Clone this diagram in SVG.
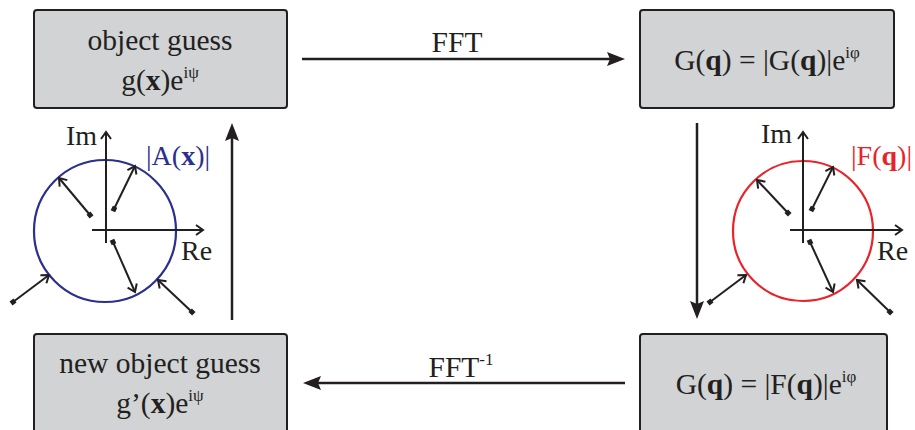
<svg xmlns="http://www.w3.org/2000/svg" width="915" height="430" viewBox="0 0 915 430">
  <style>
    text { font-family: "Liberation Serif", "Times New Roman", serif; fill: #231f20; }
    .box { fill: #d1d3d4; stroke: #231f20; stroke-width: 2; }
    .lbl { font-size: 29.5px; text-anchor: middle; }
    .ax { font-size: 28px; }
    .sup { font-size: 17px; }
    .main { stroke: #231f20; stroke-width: 2.5; fill: none; marker-end: url(#tri); }
    .axis { stroke: #231f20; stroke-width: 2; fill: none; marker-end: url(#vee); }
    .vec { stroke: #231f20; stroke-width: 2; fill: none; marker-start: url(#dot); marker-end: url(#vee); }
  </style>
  <defs>
    <marker id="tri" markerUnits="userSpaceOnUse" markerWidth="20" markerHeight="16" refX="3" refY="7" orient="auto" viewBox="0 0 20 14">
      <path d="M0,0 L18,7 L0,14 L3,7 z" fill="#231f20"/>
    </marker>
    <marker id="vee" markerUnits="userSpaceOnUse" markerWidth="12" markerHeight="12" refX="9" refY="6" orient="auto" viewBox="0 0 12 12">
      <path d="M2,1 L9,6 L2,11" fill="none" stroke="#231f20" stroke-width="2"/>
    </marker>
    <marker id="dot" markerUnits="userSpaceOnUse" markerWidth="6" markerHeight="6" refX="3" refY="3" orient="auto" viewBox="0 0 6 6">
      <rect x="0.5" y="0.5" width="5" height="5" fill="#231f20"/>
    </marker>
  </defs>

  <g id="object-guess">
    <rect class="box" x="34" y="10" width="253" height="98" rx="3"/>
    <text class="lbl" x="160" y="50">object guess</text>
    <text class="lbl" x="160" y="90">g(<tspan font-weight="bold">x</tspan>)e<tspan class="sup" dy="-12">iψ</tspan></text>
  </g>

  <g id="fourier-guess">
    <rect class="box" x="640" y="10" width="254" height="98" rx="3"/>
    <text class="lbl" x="767" y="70">G(<tspan font-weight="bold">q</tspan>) = |G(<tspan font-weight="bold">q</tspan>)|e<tspan class="sup" dy="-12">iφ</tspan></text>
  </g>

  <g id="new-object-guess">
    <rect class="box" x="34" y="334" width="253" height="110" rx="3"/>
    <text class="lbl" x="160" y="373">new object guess</text>
    <text class="lbl" x="160" y="413">g’(<tspan font-weight="bold">x</tspan>)e<tspan class="sup" dy="-12">iψ</tspan></text>
  </g>

  <g id="fourier-constrained">
    <rect class="box" x="640" y="334" width="247" height="110" rx="3"/>
    <text class="lbl" x="766" y="394">G(<tspan font-weight="bold">q</tspan>) = |F(<tspan font-weight="bold">q</tspan>)|e<tspan class="sup" dy="-12">iφ</tspan></text>
  </g>

  <g id="real-space-constraint">
    <circle cx="105" cy="231" r="71" fill="none" stroke="#2b2f8e" stroke-width="2.2"/>
    <line class="axis" x1="106" y1="243" x2="106" y2="132"/>
    <line class="axis" x1="92" y1="230" x2="203" y2="230"/>
    <line class="vec" x1="90" y1="215" x2="59" y2="178"/>
    <line class="vec" x1="114" y1="209" x2="135" y2="166"/>
    <line class="vec" x1="113" y1="242" x2="135" y2="292"/>
    <line class="vec" x1="13" y1="302" x2="49" y2="275"/>
    <line class="vec" x1="192" y1="312" x2="158" y2="280"/>
    <text class="ax" x="66" y="145">Im</text>
    <text class="ax" x="181" y="260">Re</text>
    <text class="ax" x="146" y="165" style="fill:#2b2f8e">|A(<tspan font-weight="bold">x</tspan>)|</text>
  </g>

  <g id="fourier-space-constraint">
    <circle cx="803" cy="231" r="70" fill="none" stroke="#e8242a" stroke-width="2.2"/>
    <line class="axis" x1="803" y1="243" x2="803" y2="132"/>
    <line class="axis" x1="790" y1="230" x2="902" y2="230"/>
    <line class="vec" x1="788" y1="213" x2="757" y2="180"/>
    <line class="vec" x1="812" y1="209" x2="833" y2="167"/>
    <line class="vec" x1="810" y1="242" x2="833" y2="292"/>
    <line class="vec" x1="710" y1="302" x2="746" y2="275"/>
    <line class="vec" x1="890" y1="312" x2="857" y2="280"/>
    <text class="ax" x="761" y="143">Im</text>
    <text class="ax" x="877" y="260">Re</text>
    <text class="ax" x="851" y="165" style="fill:#e8242a">|F(<tspan font-weight="bold">q</tspan>)|</text>
  </g>

  <g id="connectors">
    <line class="main" x1="302" y1="59" x2="610" y2="59"/>
    <text class="lbl" x="457" y="52">FFT</text>
    <line class="main" x1="625" y1="383" x2="318" y2="383"/>
    <text class="lbl" x="461" y="377">FFT<tspan class="sup" dy="-12">-1</tspan></text>
    <line class="main" x1="697" y1="123" x2="697" y2="304"/>
    <line class="main" x1="232" y1="320" x2="232" y2="138"/>
  </g>
</svg>
